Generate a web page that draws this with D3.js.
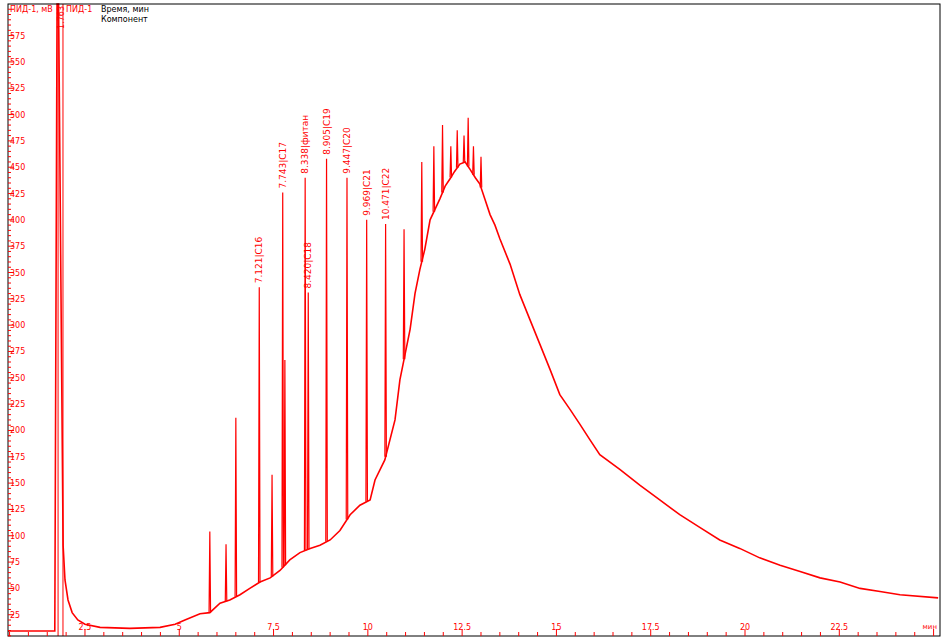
<!DOCTYPE html>
<html><head><meta charset="utf-8">
<script src="https://cdn.jsdelivr.net/npm/d3@7"></script>
<style>body{margin:0;background:#fff}text{font-family:"DejaVu Sans",sans-serif}</style>
</head><body>
<script>
// baseline of the chromatogram: time (min), signal (mV)
const baseTime = [0.46,1.70,1.76,1.80,1.92,1.97,2.05,2.16,2.31,2.5,2.9,3.69,4.49,4.89,5.15,5.55,5.81,6.08,6.34,6.61,6.87,7.14,7.41,7.67,7.93,8.2,8.47,8.73,9.0,9.26,9.53,9.79,10.06,10.19,10.45,10.72,10.85,11.12,11.25,11.38,11.51,11.65,11.78,11.91,12.05,12.18,12.3,12.44,12.58,12.71,12.85,12.97,13.1,13.24,13.37,13.5,13.77,14.03,14.3,14.56,14.83,15.09,15.36,15.62,15.89,16.15,16.68,17.21,17.74,18.27,18.8,19.33,19.86,20.39,20.93,21.46,21.99,22.52,23.05,23.58,24.11,25.12];
const baseValue = [9.5,9.5,605,605,91,58,39,27,20,16,13,12,13,16,20,26,27,36,39,44,50,56,60,67,77,84,88,91,96,105,120,129,134,153,172,210,248,296,330,353,372,400,410,420,432,439,446,453,455,448,440,434,420,405,395,382,358,329,305,282,258,234,220,206,191,177,163,148,134,120,108,96,88,79,72,66,60,56,50,47,44,41];

// narrow peaks: retention time, top (mV)
const peakTime = [5.81,6.24,6.5,7.121,7.46,7.743,7.8,8.338,8.42,8.905,9.447,9.969,10.471,10.96,11.43,11.75,11.98,12.2,12.37,12.55,12.66,12.8,13.0];
const peakValue = [104,92,212,336,158,426,267,440,331,458,440,400,396,391,455,470,490,470,485,480,497,470,460];

// labels of identified peaks
const labelTime = [7.121,7.743,8.338,8.42,8.905,9.447,9.969,10.471];
const labelText = ["7.121|C16","7.743|C17","8.338|фитан","8.420|C18","8.905|C19","9.447|C20","9.969|C21","10.471|C22"];
const labelTop = [336,426,440,331,458,440,400,396];

const xTicks = [2.5,5,7.5,10,12.5,15,17.5,20,22.5];
const yTicks = [25,50,75,100,125,150,175,200,225,250,275,300,325,350,375,400,425,450,475,500,525,550,575];

const red = "#ff0000";
const svg = d3.select("body").append("svg").attr("width", 944).attr("height", 642);
const x = d3.scaleLinear().domain([0.459, 25.17]).range([8, 940]);
const y = d3.scaleLinear().domain([4.8, 605]).range([636, 4]);

const line = d3.line().x(d => x(d[0])).y(d => y(d[1]));
const basePts = baseTime.map((t, i) => [t, baseValue[i]]);
const baseAt = t => {
  const i = d3.bisectLeft(baseTime, t);
  const t0 = baseTime[i - 1], t1 = baseTime[i];
  return baseValue[i - 1] + (baseValue[i] - baseValue[i - 1]) * (t - t0) / (t1 - t0);
};

svg.append("path").attr("d", line(basePts)).attr("fill", "none").attr("stroke", red).attr("stroke-width", 1.6);

peakTime.forEach((t, i) => {
  const b = baseAt(t);
  svg.append("path")
    .attr("d", line([[t - 0.02, b], [t, peakValue[i]], [t + 0.02, b]]))
    .attr("fill", "none").attr("stroke", red).attr("stroke-width", 1.2);
});

// solvent peak lines
[1.76, 1.89].forEach(t => {
  svg.append("line").attr("x1", x(t) + 1).attr("x2", x(t) + 1).attr("y1", 4).attr("y2", 636)
    .attr("stroke", red);
});
svg.append("text").attr("transform", `translate(${x(1.76) + 7},6) rotate(-90)`)
  .attr("text-anchor", "end").attr("font-size", 8).attr("fill", red).text("1.763");

labelTime.forEach((t, i) => {
  svg.append("text")
    .attr("transform", `translate(${x(t) + 3},${y(labelTop[i]) - 4}) rotate(-90)`)
    .attr("font-family", "Liberation Serif").attr("font-size", 9).attr("fill", red)
    .text(labelText[i]);
});

// frame
svg.append("rect").attr("x", 8).attr("y", 4).attr("width", 932).attr("height", 632)
  .attr("fill", "none").attr("stroke", "#000");

// y axis
d3.range(5, 605, 5).forEach(v => {
  const major = v % 25 === 0;
  svg.append("line").attr("x1", 8).attr("x2", major ? 14 : 11)
    .attr("y1", y(v)).attr("y2", y(v)).attr("stroke", red);
});
yTicks.forEach(v => {
  svg.append("text").attr("x", 10).attr("y", y(v) + 3).attr("font-size", 8).attr("fill", red).text(v);
});

// x axis
d3.range(0.5, 25.1, 0.5).forEach(t => {
  const major = Math.abs(t / 2.5 - Math.round(t / 2.5)) < 1e-6;
  svg.append("line").attr("x1", x(t)).attr("x2", x(t))
    .attr("y1", 636).attr("y2", major ? 629 : 632).attr("stroke", red);
});
xTicks.forEach(t => {
  svg.append("text").attr("x", x(t)).attr("y", 630).attr("text-anchor", "middle")
    .attr("font-size", 8).attr("fill", red).text(t);
});
svg.append("text").attr("x", 937).attr("y", 629).attr("text-anchor", "end")
  .attr("font-size", 7).attr("fill", red).text("мин");

svg.append("text").attr("x", 10).attr("y", 12).attr("font-size", 8).attr("fill", red).text("ПИД-1, мВ");
svg.append("text").attr("x", 66).attr("y", 12).attr("font-size", 8).attr("fill", red).text("ПИД-1");
svg.append("text").attr("x", 101).attr("y", 12).attr("font-size", 8).attr("fill", "#000").text("Время, мин");
svg.append("text").attr("x", 101).attr("y", 22).attr("font-size", 8).attr("fill", "#000").text("Компонент");
</script>
</body></html>
